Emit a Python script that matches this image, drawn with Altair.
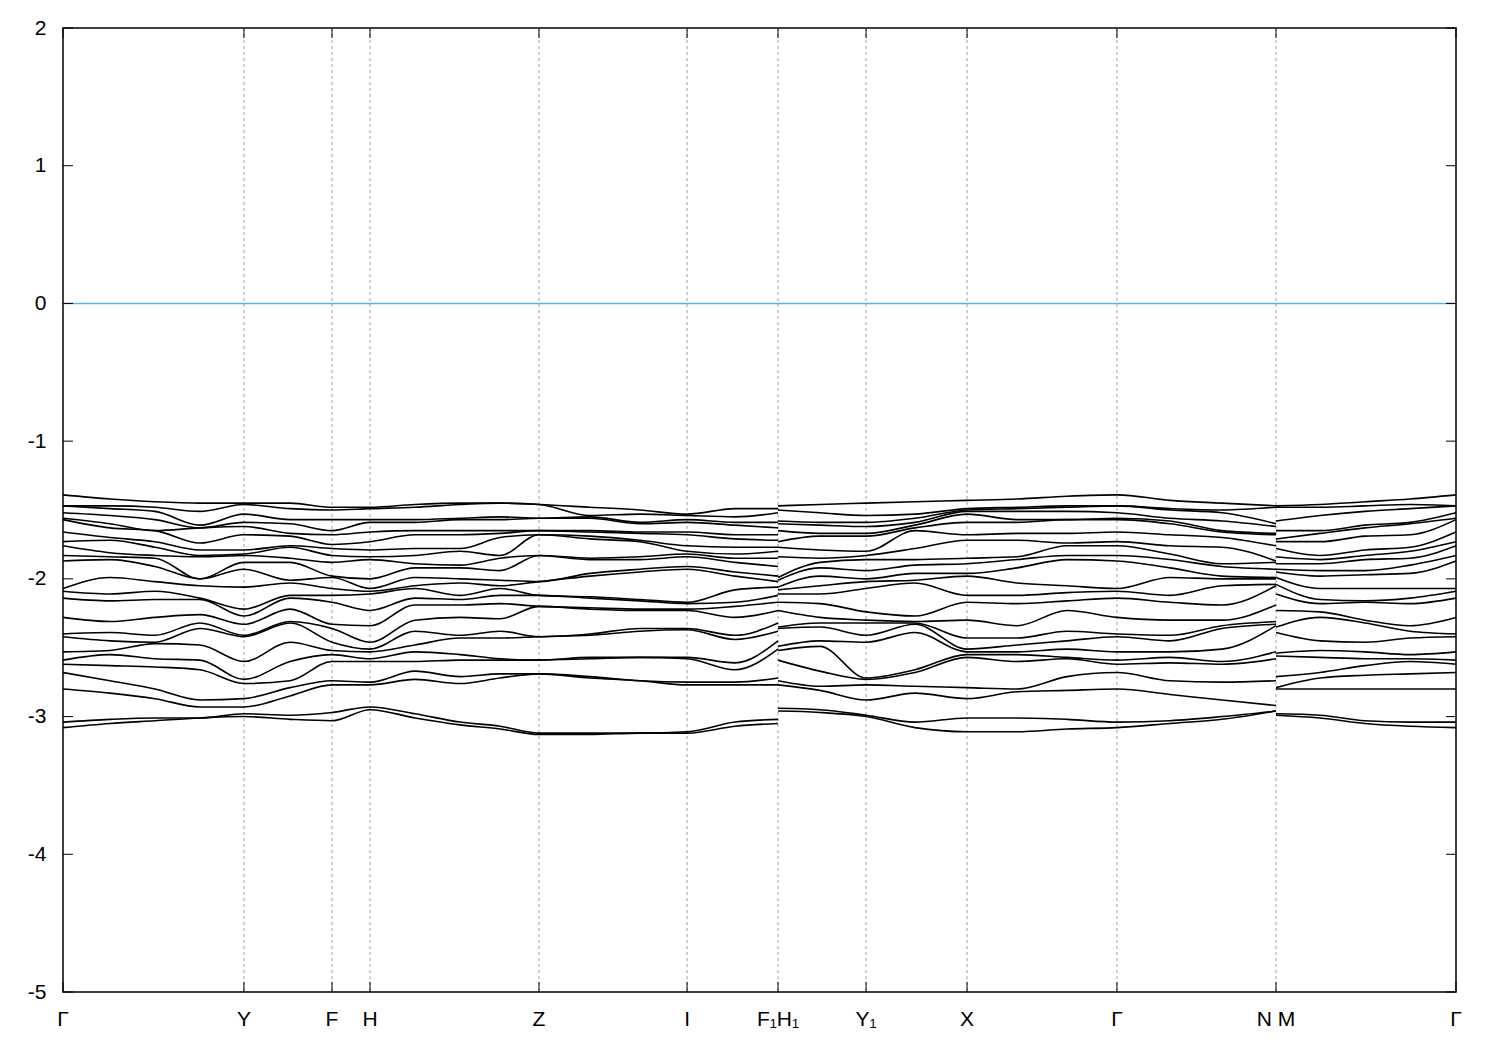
import altair as alt
import pandas as pd

# ---- high-symmetry points (fractional path coordinate) ----
sym_k = [0.0, 0.1299, 0.1931, 0.2204, 0.3417, 0.4480, 0.5133, 0.5765, 0.6490, 0.7566, 0.8708, 1.0]
sym_labels = ["Γ", "Y", "F", "H", "Z", "I", "F₁H₁", "Y₁", "X", "Γ", "N M", "Γ"]
y_ticks = [-5, -4, -3, -2, -1, 0, 1, 2]

# ---- band energies (eV) read at sampled k columns, sorted high -> low ----
e_G = [-1.39, -1.47, -1.47, -1.52, -1.56, -1.57, -1.66, -1.73, -1.76, -1.83, -1.87, -2.07, -2.09, -2.14, -2.28, -2.40, -2.42, -2.53, -2.59, -2.62, -2.68, -2.80, -3.04, -3.08]
e_01 = [-1.42, -1.47, -1.49, -1.54, -1.60, -1.63, -1.70, -1.72, -1.81, -1.84, -1.86, -1.99, -2.11, -2.16, -2.31, -2.39, -2.45, -2.52, -2.55, -2.63, -2.74, -2.83, -3.02, -3.05]
e_02 = [-1.44, -1.48, -1.51, -1.57, -1.65, -1.65, -1.73, -1.77, -1.83, -1.85, -1.91, -2.02, -2.09, -2.15, -2.28, -2.41, -2.46, -2.47, -2.58, -2.64, -2.80, -2.87, -3.01, -3.03]
e_03 = [-1.45, -1.51, -1.61, -1.63, -1.63, -1.74, -1.79, -1.83, -1.84, -2.00, -2.00, -2.05, -2.14, -2.15, -2.26, -2.32, -2.36, -2.48, -2.59, -2.66, -2.88, -2.93, -3.01, -3.01]
e_Y = [-1.45, -1.46, -1.53, -1.59, -1.62, -1.68, -1.79, -1.82, -1.83, -1.88, -1.93, -2.06, -2.22, -2.27, -2.33, -2.41, -2.42, -2.60, -2.73, -2.76, -2.87, -2.93, -2.98, -3.00]
e_05 = [-1.45, -1.49, -1.57, -1.60, -1.67, -1.69, -1.76, -1.77, -1.85, -1.88, -2.01, -2.03, -2.12, -2.14, -2.22, -2.31, -2.32, -2.46, -2.60, -2.74, -2.79, -2.85, -2.99, -3.02]
e_F = [-1.48, -1.50, -1.57, -1.65, -1.68, -1.75, -1.78, -1.83, -1.88, -1.98, -1.99, -2.07, -2.12, -2.17, -2.33, -2.36, -2.46, -2.52, -2.55, -2.60, -2.74, -2.77, -2.97, -3.03]
e_H = [-1.48, -1.49, -1.57, -1.59, -1.66, -1.73, -1.79, -1.84, -1.86, -2.00, -2.07, -2.09, -2.11, -2.23, -2.34, -2.46, -2.51, -2.53, -2.58, -2.60, -2.75, -2.77, -2.93, -2.95]
e_08 = [-1.46, -1.48, -1.57, -1.59, -1.65, -1.68, -1.78, -1.83, -1.89, -1.92, -1.99, -2.05, -2.07, -2.14, -2.19, -2.30, -2.38, -2.48, -2.53, -2.60, -2.67, -2.73, -2.98, -3.01]
e_09 = [-1.45, -1.46, -1.56, -1.57, -1.65, -1.68, -1.78, -1.80, -1.90, -1.92, -2.00, -2.03, -2.12, -2.15, -2.19, -2.28, -2.41, -2.43, -2.55, -2.59, -2.71, -2.76, -3.04, -3.06]
e_10 = [-1.45, -1.45, -1.55, -1.57, -1.65, -1.67, -1.70, -1.83, -1.85, -1.94, -2.01, -2.05, -2.07, -2.12, -2.18, -2.29, -2.38, -2.43, -2.58, -2.59, -2.69, -2.72, -3.07, -3.09]
e_Z = [-1.46, -1.46, -1.56, -1.56, -1.65, -1.65, -1.68, -1.68, -1.83, -1.83, -2.02, -2.02, -2.12, -2.12, -2.20, -2.20, -2.42, -2.42, -2.59, -2.59, -2.69, -2.69, -3.12, -3.13]
e_12 = [-1.48, -1.54, -1.55, -1.56, -1.65, -1.66, -1.69, -1.71, -1.85, -1.86, -1.96, -1.98, -2.13, -2.14, -2.21, -2.22, -2.40, -2.41, -2.57, -2.58, -2.71, -2.72, -3.12, -3.13]
e_13 = [-1.50, -1.53, -1.59, -1.60, -1.66, -1.67, -1.72, -1.73, -1.84, -1.86, -1.93, -1.95, -2.15, -2.16, -2.22, -2.23, -2.36, -2.38, -2.57, -2.57, -2.74, -2.74, -3.12, -3.12]
e_I = [-1.53, -1.54, -1.57, -1.59, -1.66, -1.68, -1.76, -1.80, -1.82, -1.84, -1.91, -1.93, -2.17, -2.18, -2.22, -2.23, -2.36, -2.37, -2.57, -2.58, -2.75, -2.77, -3.11, -3.12]
e_15 = [-1.49, -1.55, -1.59, -1.61, -1.68, -1.71, -1.77, -1.82, -1.85, -1.88, -1.95, -1.98, -2.08, -2.17, -2.20, -2.28, -2.41, -2.44, -2.61, -2.66, -2.75, -2.77, -3.04, -3.07]
e_F1 = [-1.49, -1.52, -1.59, -1.63, -1.68, -1.72, -1.77, -1.80, -1.85, -1.91, -1.98, -2.02, -2.06, -2.12, -2.17, -2.23, -2.32, -2.38, -2.45, -2.51, -2.72, -2.77, -3.02, -3.05]
e_H1 = [-1.47, -1.50, -1.58, -1.60, -1.65, -1.73, -1.77, -1.84, -1.99, -2.01, -2.06, -2.08, -2.11, -2.17, -2.23, -2.35, -2.36, -2.49, -2.52, -2.59, -2.74, -2.77, -2.94, -2.96]
e_18 = [-1.46, -1.52, -1.59, -1.61, -1.67, -1.69, -1.79, -1.85, -1.88, -1.92, -1.98, -2.05, -2.11, -2.18, -2.28, -2.32, -2.35, -2.45, -2.49, -2.67, -2.78, -2.81, -2.95, -2.97]
e_Y1 = [-1.45, -1.54, -1.59, -1.62, -1.67, -1.69, -1.80, -1.83, -1.86, -1.94, -2.00, -2.02, -2.07, -2.24, -2.30, -2.32, -2.41, -2.46, -2.72, -2.73, -2.77, -2.88, -2.99, -3.00]
e_20 = [-1.44, -1.53, -1.56, -1.59, -1.61, -1.63, -1.65, -1.78, -1.86, -1.90, -1.96, -2.01, -2.03, -2.27, -2.31, -2.32, -2.33, -2.39, -2.66, -2.68, -2.78, -2.83, -3.04, -3.08]
e_X = [-1.43, -1.49, -1.50, -1.51, -1.53, -1.59, -1.68, -1.72, -1.85, -1.89, -1.96, -1.98, -2.12, -2.17, -2.30, -2.43, -2.51, -2.53, -2.55, -2.57, -2.79, -2.87, -3.01, -3.11]
e_22 = [-1.42, -1.48, -1.49, -1.51, -1.57, -1.59, -1.67, -1.72, -1.84, -1.86, -1.92, -2.03, -2.12, -2.18, -2.34, -2.43, -2.48, -2.53, -2.55, -2.60, -2.80, -2.82, -3.01, -3.11]
e_23 = [-1.40, -1.47, -1.48, -1.51, -1.57, -1.57, -1.67, -1.74, -1.76, -1.83, -1.86, -2.05, -2.10, -2.16, -2.23, -2.38, -2.45, -2.51, -2.57, -2.58, -2.71, -2.81, -3.02, -3.09]
e_25 = [-1.43, -1.49, -1.50, -1.56, -1.58, -1.60, -1.68, -1.76, -1.82, -1.86, -1.92, -1.99, -2.12, -2.17, -2.30, -2.41, -2.45, -2.53, -2.57, -2.61, -2.74, -2.84, -3.03, -3.05]
e_26 = [-1.45, -1.50, -1.52, -1.58, -1.65, -1.66, -1.70, -1.77, -1.89, -1.91, -1.98, -2.00, -2.05, -2.19, -2.30, -2.34, -2.36, -2.51, -2.60, -2.62, -2.75, -2.88, -3.00, -3.02]
e_N = [-1.47, -1.48, -1.60, -1.62, -1.67, -1.68, -1.76, -1.87, -1.88, -1.93, -1.99, -2.00, -2.04, -2.05, -2.19, -2.31, -2.33, -2.34, -2.53, -2.58, -2.74, -2.92, -2.96, -2.96]
e_M = [-1.47, -1.48, -1.58, -1.65, -1.71, -1.73, -1.78, -1.84, -1.89, -1.93, -1.95, -1.99, -2.04, -2.11, -2.23, -2.35, -2.39, -2.54, -2.56, -2.71, -2.79, -2.80, -2.98, -2.99]
e_29 = [-1.46, -1.48, -1.54, -1.65, -1.67, -1.73, -1.83, -1.86, -1.89, -1.94, -1.98, -2.07, -2.15, -2.18, -2.24, -2.28, -2.45, -2.52, -2.57, -2.68, -2.72, -2.80, -2.99, -3.01]
e_30 = [-1.44, -1.47, -1.51, -1.61, -1.63, -1.69, -1.79, -1.83, -1.86, -1.94, -1.97, -2.07, -2.16, -2.17, -2.30, -2.32, -2.46, -2.53, -2.58, -2.63, -2.70, -2.80, -3.03, -3.05]
e_31 = [-1.42, -1.46, -1.49, -1.59, -1.60, -1.68, -1.77, -1.80, -1.85, -1.90, -1.96, -2.07, -2.14, -2.18, -2.34, -2.38, -2.43, -2.55, -2.58, -2.60, -2.69, -2.80, -3.04, -3.07]

# k position of each sampled column and the path segment it belongs to
col_k = [0.0, 0.0337, 0.0660, 0.0983, 0.1299, 0.1630, 0.1931, 0.2204, 0.2527, 0.2850,
         0.3137, 0.3417, 0.3783, 0.4142, 0.4480, 0.4824, 0.5133,
         0.5133, 0.5434, 0.5765, 0.6116, 0.6490, 0.6849, 0.7207, 0.7566, 0.7947, 0.8320, 0.8708,
         0.8708, 0.9024, 0.9347, 0.9670, 1.0]
col_seg = [0] * 17 + [1] * 11 + [2] * 5
col_vals = [e_G, e_01, e_02, e_03, e_Y, e_05, e_F, e_H, e_08, e_09, e_10, e_Z, e_12, e_13, e_I, e_15, e_F1,
            e_H1, e_18, e_Y1, e_20, e_X, e_22, e_23, e_G, e_25, e_26, e_N,
            e_M, e_29, e_30, e_31, e_G]

rows = []
for k, s, vals in zip(col_k, col_seg, col_vals):
    for b, e in enumerate(vals):
        rows.append({"k": k, "E": e, "bs": f"{s}_{b}"})
bands = pd.DataFrame(rows)

W, H = 1393, 964
FONT = "Liberation Sans"

xs = alt.X("k:Q", scale=alt.Scale(domain=[0, 1], nice=False, zero=False), axis=None)
ys = alt.Y("E:Q", scale=alt.Scale(domain=[-5, 2], nice=False, zero=False),
           axis=alt.Axis(values=y_ticks, tickSize=0, labelPadding=17, labelFontSize=21,
                         labelFont=FONT, labelColor="black", domain=False, grid=False,
                         title="", labelExpr="'' + datum.value"))

sym_df = pd.DataFrame({"k": sym_k, "label": sym_labels})
inner_df = sym_df.iloc[1:-1]

grid = alt.Chart(inner_df).mark_rule(color="#a0a0a0", strokeWidth=1, strokeDash=[3, 3]).encode(x=xs)
zero = alt.Chart(pd.DataFrame({"E": [0.0]})).mark_rule(color="#56b4e9", strokeWidth=1.5).encode(y=ys)
lines = alt.Chart(bands).mark_line(color="black", strokeWidth=1.6, interpolate="monotone").encode(
    x=xs, y=ys, detail="bs:N", order="k:Q")

yt_df = pd.DataFrame({"E": y_ticks})
ltick = alt.Chart(yt_df).mark_rule(color="black", strokeWidth=1).encode(y=ys, x=alt.value(0), x2=alt.value(10))
rtick = alt.Chart(yt_df).mark_rule(color="black", strokeWidth=1).encode(y=ys, x=alt.value(W - 10), x2=alt.value(W))
btick = alt.Chart(sym_df).mark_rule(color="black", strokeWidth=1).encode(x=xs, y=alt.value(H - 10), y2=alt.value(H))
ttick = alt.Chart(sym_df).mark_rule(color="black", strokeWidth=1).encode(x=xs, y=alt.value(0), y2=alt.value(10))
xlab = alt.Chart(sym_df).mark_text(fontSize=21, font=FONT, baseline="top", color="black").encode(
    x=xs, y=alt.value(H + 17), text="label:N")

chart = alt.layer(grid, zero, lines, ltick, rtick, btick, ttick, xlab).properties(
    width=W, height=H,
    autosize=alt.AutoSizeParams(type="none"),
    padding={"left": 55, "top": 20, "right": 20, "bottom": 50},
).configure_view(stroke="black", strokeWidth=1.5)

chart.save("out.html", embed_options={"renderer": "svg", "actions": False})
